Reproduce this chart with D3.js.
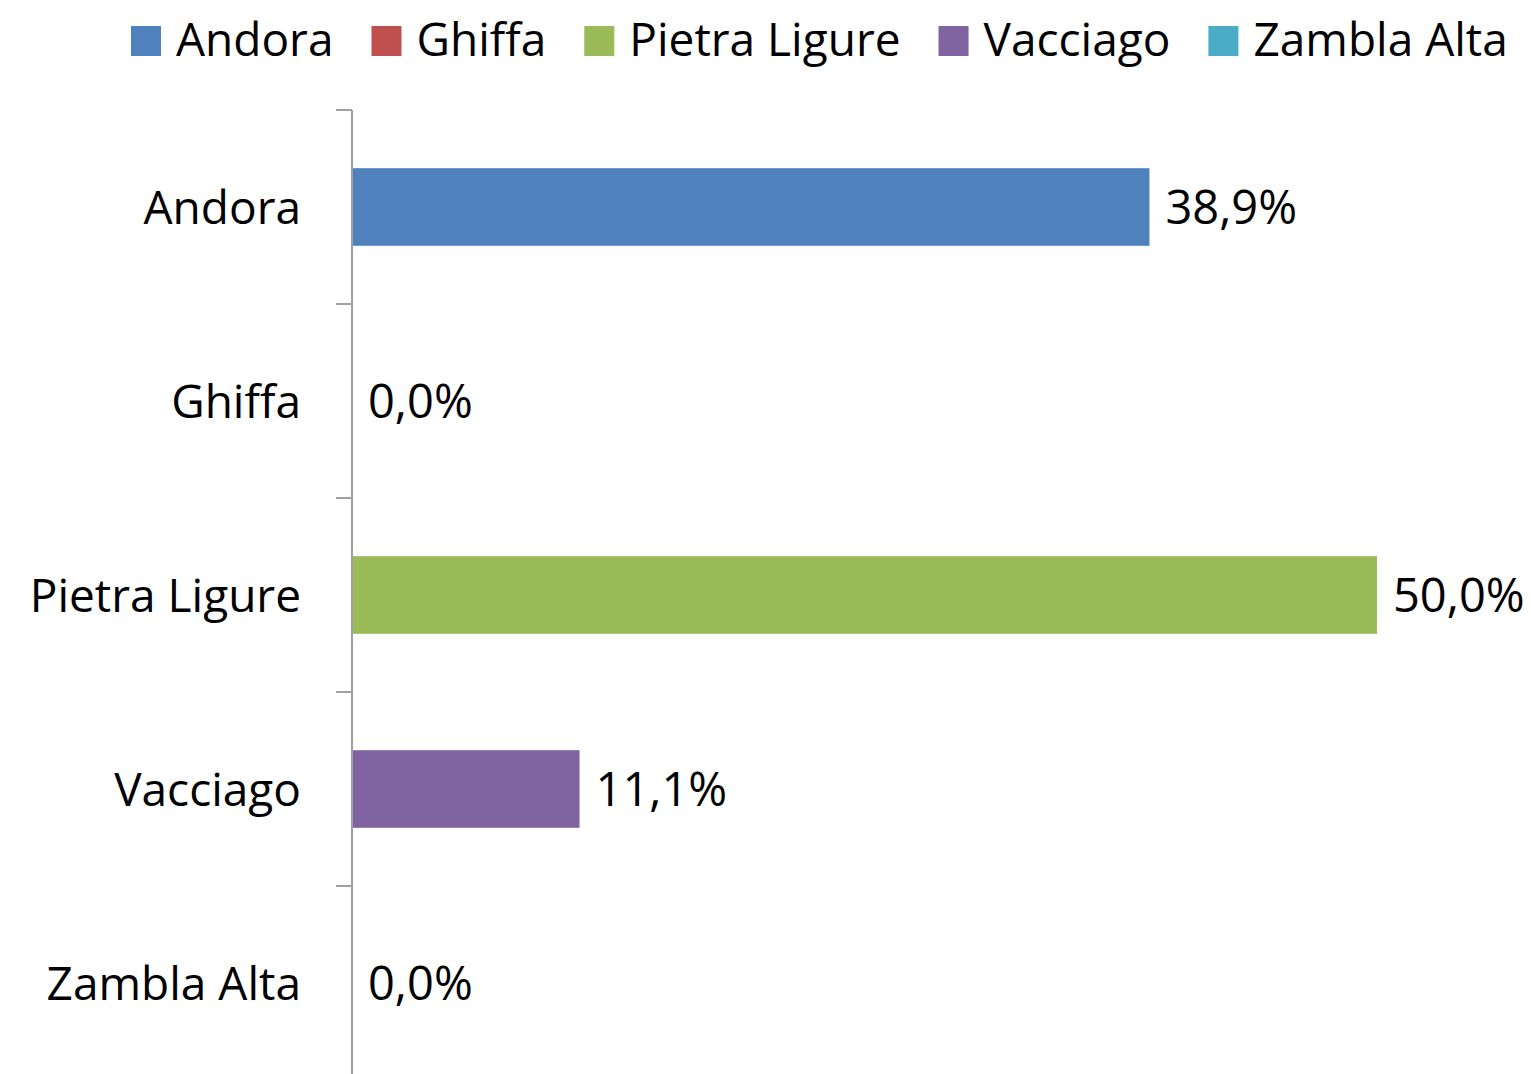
<!DOCTYPE html>
<html>
<head>
<meta charset="utf-8">
<script src="https://cdnjs.cloudflare.com/ajax/libs/d3/7.8.5/d3.min.js"></script>
<style>
  body { margin: 0; background: #fff; }
  text { font-family: "Open Sans", sans-serif; fill: #000; }
</style>
</head>
<body>
<div id="chart"></div>
<script>
// comuni e percentuali
var categories = ["Andora", "Ghiffa", "Pietra Ligure", "Vacciago", "Zambla Alta"];
var values = [38.9, 0.0, 50.0, 11.1, 0.0];
var colors = ["#4F81BD", "#C0504D", "#9BBB59", "#8064A2", "#4BACC6"];

var W = 1531, H = 1074;
var axisX = 352, plotTop = 110, step = 194;

var svg = d3.select("#chart").append("svg")
  .attr("width", W).attr("height", H);

var x = d3.scaleLinear().domain([0, 50]).range([axisX, axisX + 1025]);
var y = d3.scaleBand().domain(categories)
  .range([plotTop, plotTop + step * categories.length])
  .paddingInner(0.6).paddingOuter(0.3);

var fmt = function (v) { return v.toFixed(1).replace(".", ",") + "%"; };

// barre
svg.selectAll(".bar").data(categories).enter().append("rect")
  .attr("class", "bar")
  .attr("x", x(0))
  .attr("y", function (d) { return y(d); })
  .attr("width", function (d, i) { return x(values[i]) - x(0); })
  .attr("height", y.bandwidth())
  .attr("fill", function (d, i) { return colors[i]; });

// asse verticale con tacche tra le categorie
var axisG = svg.append("g");
axisG.append("line")
  .attr("x1", axisX).attr("x2", axisX)
  .attr("y1", plotTop).attr("y2", plotTop + step * categories.length)
  .attr("stroke", "#A0A0A0").attr("stroke-width", 2);
d3.range(categories.length + 1).forEach(function (i) {
  axisG.append("line")
    .attr("x1", axisX - 16).attr("x2", axisX)
    .attr("y1", plotTop + i * step).attr("y2", plotTop + i * step)
    .attr("stroke", "#A0A0A0").attr("stroke-width", 2);
});

// etichette categorie
svg.selectAll(".cat").data(categories).enter().append("text")
  .attr("class", "cat")
  .attr("x", axisX - 51)
  .attr("y", function (d) { return y(d) + y.bandwidth() / 2; })
  .attr("dy", "0.36em")
  .attr("text-anchor", "end")
  .style("font-size", "46px")
  .text(function (d) { return d; });

// etichette valori
svg.selectAll(".val").data(categories).enter().append("text")
  .attr("class", "val")
  .attr("x", function (d, i) { return x(values[i]) + 16; })
  .attr("y", function (d) { return y(d) + y.bandwidth() / 2; })
  .attr("dy", "0.37em")
  .style("font-size", "47px")
  .text(function (d, i) { return fmt(values[i]); });

// legenda
var lg = svg.append("g");
var lx = 131;
categories.forEach(function (c, i) {
  lg.append("rect").attr("x", lx).attr("y", 26).attr("width", 30).attr("height", 30)
    .attr("fill", colors[i]);
  var t = lg.append("text").attr("x", lx + 45).attr("y", 56)
    .style("font-size", "46px").text(c);
  lx += 45 + t.node().getComputedTextLength() + 38;
});
</script>
</body>
</html>
